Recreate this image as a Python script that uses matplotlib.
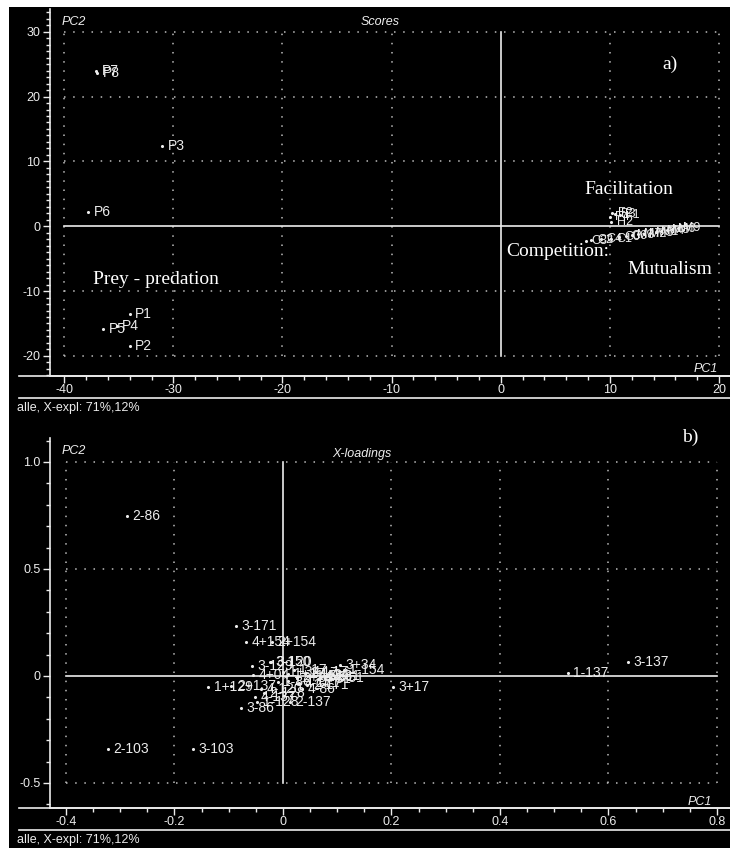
import matplotlib
matplotlib.use("Agg")
import matplotlib.pyplot as plt
from matplotlib.lines import Line2D
from matplotlib.patches import Rectangle
from matplotlib.ticker import FixedLocator, MultipleLocator

plt.rcParams['font.family'] = ['Liberation Sans Narrow', 'Liberation Sans', 'DejaVu Sans']
plt.rcParams['axes.unicode_minus'] = False

W, H = 730, 848
FG = '#ececec'

# ---- scores (PC1, PC2) ----
pred_names = ["P1", "P2", "P3", "P4", "P5", "P6", "P7", "P8"]
pred_x = [-34.0, -34.0, -31.0, -35.2, -36.4, -37.8, -37.1, -37.0]
pred_y = [-13.6, -18.4, 12.3, -15.4, -15.9, 2.2, 24.0, 23.6]

fac_names = ["F2", "F3", "F1", "F4", "H2"]
fac_x = [10.2, 10.5, 10.9, 10.0, 10.1]
fac_y = [2.0, 1.9, 1.7, 1.4, 0.6]

comp_names = ["C3", "C2", "C4", "C1", "C0", "C6"]
comp_x = [7.8, 8.3, 9.2, 10.1, 10.8, 11.5]
comp_y = [-2.3, -2.1, -2.0, -1.9, -1.7, -1.5]

mut_names = ["M3", "M7", "M2", "M5", "M1", "M4", "M8", "M6", "M9"]
mut_x = [12.0, 12.6, 13.1, 13.7, 14.2, 14.7, 15.2, 15.7, 16.2]
mut_y = [-1.35, -1.25, -1.15, -1.05, -0.95, -0.8, -0.65, -0.5, -0.3]

# ---- X-loadings (PC1, PC2) ----
load_names = ["2-86", "3-171", "4+154", "2+154", "3-129", "3-150", "3-120",
              "3+34", "1-154", "3+17", "1-137", "3-137", "3-86", "2-103",
              "3-103", "1+129", "2+137", "4-137", "1-128", "2-128", "2-137",
              "4+04", "4-120", "1-17", "2-17", "4-17", "1+17", "2-51",
              "3-51", "1-51", "4-171", "1-171", "2-171", "4-81", "3-81",
              "1+34", "2+34", "4+34", "1-86", "4-86"]
load_x = [-0.288, -0.087, -0.068, -0.020, -0.057, -0.024, -0.022,
          0.105, 0.112, 0.203, 0.525, 0.636, -0.077, -0.323,
          -0.166, -0.138, -0.095, -0.052, -0.048, -0.035, 0.013,
          -0.055, -0.040, 0.020, 0.040, 0.060, 0.010, 0.070,
          0.088, 0.050, 0.030, 0.010, 0.045, 0.065, 0.080,
          0.000, 0.025, 0.055, -0.010, 0.035]
load_y = [0.748, 0.234, 0.159, 0.159, 0.047, 0.065, 0.063,
          0.051, 0.030, -0.050, 0.014, 0.065, -0.150, -0.341,
          -0.341, -0.050, -0.045, -0.098, -0.120, -0.080, -0.120,
          0.003, -0.060, 0.030, 0.015, 0.020, 0.010, -0.005,
          -0.008, 0.002, -0.035, -0.025, -0.040, -0.015, 0.000,
          0.020, -0.010, 0.005, -0.030, -0.060]

score_xticks = [-40, -30, -20, -10, 0, 10, 20]
score_yticks = [-20, -10, 0, 10, 20, 30]
load_xticks = [-0.4, -0.2, 0.0, 0.2, 0.4, 0.6, 0.8]
load_xlabels = ["-0.4", "-0.2", "0", "0.2", "0.4", "0.6", "0.8"]
load_yticks = [-0.5, 0.0, 0.5, 1.0]
load_ylabels = ["-0.5", "0", "0.5", "1.0"]


def fx(px):
    return px / W


def fy(py):
    return 1 - py / H


fig = plt.figure(figsize=(W / 100, H / 100), dpi=100, facecolor='white')
fig.patches.append(Rectangle((fx(9), 0), 1, fy(7), transform=fig.transFigure,
                             facecolor='black', edgecolor='none', zorder=-10))


def panel(top, bottom, xlim, ylim, xticks, xlabels, yticks, ylabels, xminor, yminor):
    ax = fig.add_axes([fx(50), fy(bottom), 1 - fx(50), (bottom - top) / H])
    ax.set_facecolor('black')
    ax.set_xlim(*xlim)
    ax.set_ylim(*ylim)
    for s in ['top', 'right']:
        ax.spines[s].set_visible(False)
    for s in ['left', 'bottom']:
        ax.spines[s].set_color(FG)
        ax.spines[s].set_linewidth(1.2)
    ax.xaxis.set_major_locator(FixedLocator(xticks))
    ax.set_xticklabels(xlabels)
    ax.yaxis.set_major_locator(FixedLocator(yticks))
    ax.set_yticklabels(ylabels)
    ax.xaxis.set_minor_locator(MultipleLocator(xminor))
    ax.yaxis.set_minor_locator(MultipleLocator(yminor))
    ax.tick_params(which='both', colors=FG, labelsize=9, direction='out', width=1)
    ax.tick_params(which='major', length=5)
    ax.tick_params(which='minor', length=3)
    ax.tick_params(axis='x', pad=1)
    ax.tick_params(axis='y', pad=2)
    # dotted grid box between the outer ticks, solid lines through the origin
    x0, x1 = xticks[0], xticks[-1]
    y0, y1 = yticks[0], yticks[-1]
    for v in xticks:
        if v != 0:
            ax.plot([v, v], [y0, y1], color='#bdbdbd', lw=1.1, ls=(0, (1, 5)), zorder=1)
    for v in yticks:
        if v != 0:
            ax.plot([x0, x1], [v, v], color='#bdbdbd', lw=1.1, ls=(0, (1, 5)), zorder=1)
    ax.plot([0, 0], [y0, y1], color=FG, lw=1.2, zorder=2)
    ax.plot([x0, x1], [0, 0], color=FG, lw=1.2, zorder=2)
    # axis rules running to the left edge
    fig.add_artist(Line2D([fx(19), 1], [fy(bottom), fy(bottom)], color=FG, lw=1.2))
    fig.add_artist(Line2D([fx(19), 1], [fy(bottom + 22), fy(bottom + 22)], color=FG, lw=1.2))
    fig.text(fx(17), fy(bottom + 32), "alle, X-expl: 71%,12%", color=FG, fontsize=9,
             va='center', ha='left')
    return ax


def points(ax, xs, ys, names, size=9):
    ax.scatter(xs, ys, s=5, color=FG, zorder=3, linewidths=0)
    for x, y, n in zip(xs, ys, names):
        ax.annotate(n, (x, y), xytext=(4, 0), textcoords='offset points',
                    color=FG, fontsize=size, va='center', ha='left', zorder=4)


# a) scores
ax1 = panel(9, 376, (-41.3, 21.0), (-23.1, 33.5), score_xticks,
            [str(v) for v in score_xticks], score_yticks,
            [str(v) for v in score_yticks], 2, 1)
points(ax1, pred_x, pred_y, pred_names, 10)
points(ax1, fac_x, fac_y, fac_names)
points(ax1, comp_x, comp_y, comp_names)
points(ax1, mut_x, mut_y, mut_names)
fig.text(fx(62), fy(22), "PC2", color=FG, fontsize=9, style='italic', va='center')
fig.text(fx(380), fy(22), "Scores", color=FG, fontsize=9, style='italic', va='center', ha='center')
fig.text(fx(718), fy(369), "PC1", color=FG, fontsize=9, style='italic', va='center', ha='right')
serif = dict(color='white', family=['Liberation Serif', 'DejaVu Serif'], fontsize=14)
fig.text(fx(662), fy(64), "a)", va='center', **serif)
fig.text(fx(584), fy(190), "Facilitation", va='center', **serif)
fig.text(fx(506), fy(252), "Competition:", va='center', **serif)
fig.text(fx(627), fy(270), "Mutualism", va='center', **serif)
fig.text(fx(93), fy(280), "Prey - predation", va='center', **serif)

# b) X-loadings
ax2 = panel(438, 808, (-0.4295, 0.824), (-0.617, 1.112), load_xticks, load_xlabels,
            load_yticks, load_ylabels, 0.05, 0.1)
points(ax2, load_x, load_y, load_names, 10)
fig.text(fx(62), fy(451), "PC2", color=FG, fontsize=9, style='italic', va='center')
fig.text(fx(362), fy(454), "X-loadings", color=FG, fontsize=9, style='italic', va='center', ha='center')
fig.text(fx(712), fy(802), "PC1", color=FG, fontsize=9, style='italic', va='center', ha='right')
fig.text(fx(682), fy(437), "b)", va='center', **serif)

fig.savefig("out.png", dpi=100, facecolor=fig.get_facecolor())
